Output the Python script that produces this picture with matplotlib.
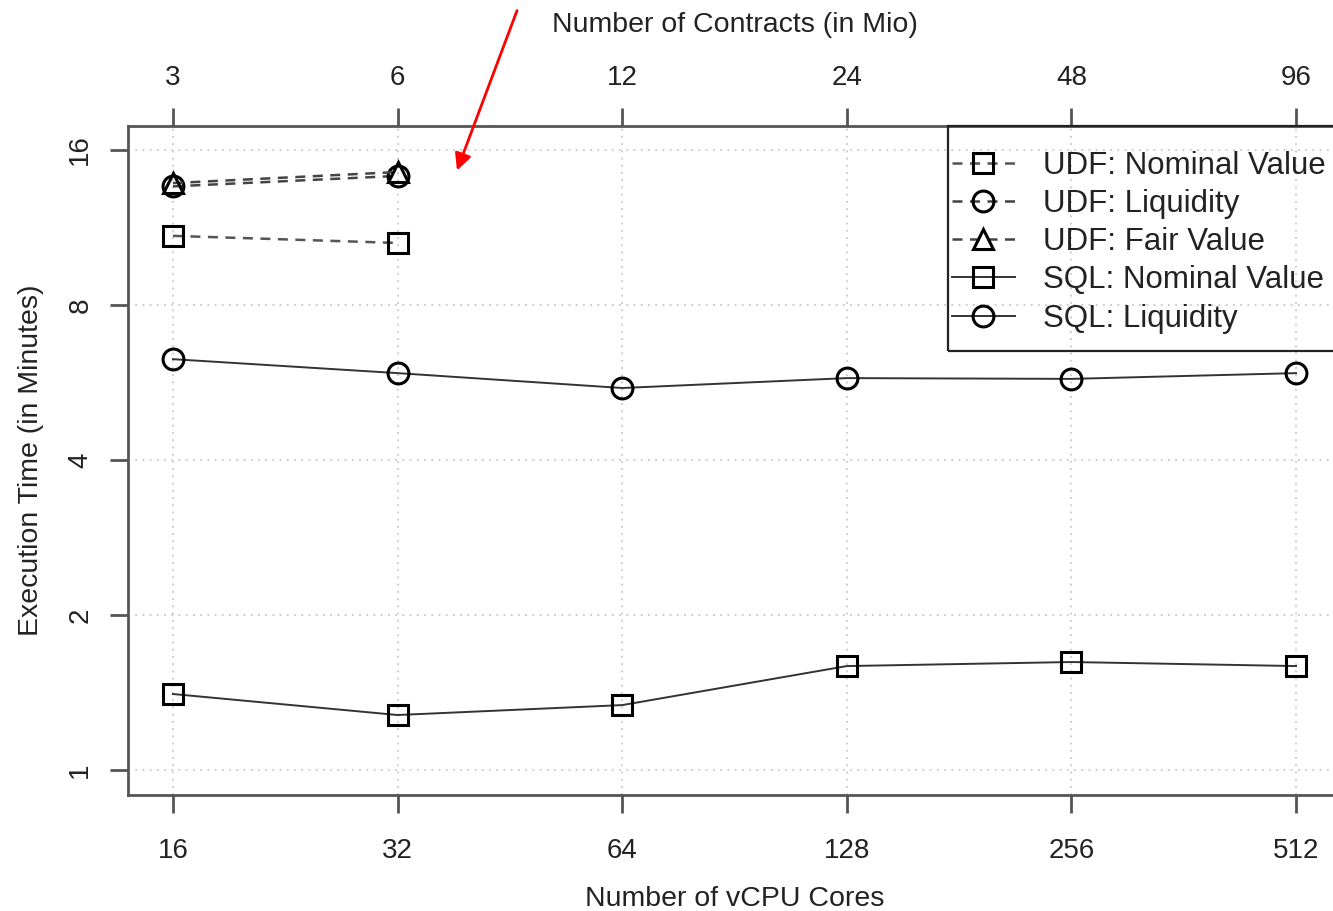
import matplotlib.pyplot as plt
from matplotlib.patches import Rectangle

plt.rcParams['font.family'] = ['Liberation Sans', 'DejaVu Sans']

cores = [16, 32, 64, 128, 256, 512]
contracts = [3, 6, 12, 24, 48, 96]

udf_nominal = [10.9, 10.56]
udf_liquidity = [13.6, 14.25]
udf_fair = [13.8, 14.5]
sql_nominal = [1.405, 1.279, 1.337, 1.592, 1.621, 1.592]
sql_liquidity = [6.28, 5.90, 5.52, 5.77, 5.75, 5.90]

W, H = 1333, 911
fig = plt.figure(figsize=(W / 100, H / 100), dpi=100)
ax = fig.add_axes([128 / W, 1 - 795 / H, (1341 - 128) / W, (795 - 126) / H])

mk = dict(markersize=15, markerfacecolor='none', markeredgecolor='black', markeredgewidth=2.2)
dash = (0, (4, 3))
ax.plot(cores[:2], udf_nominal, linestyle=dash, color='#555555', lw=1.8, marker='s', label='UDF: Nominal Value', **mk)
ax.plot(cores[:2], udf_liquidity, linestyle=dash, color='#444444', lw=1.8, marker='o', label='UDF: Liquidity', **mk)
ax.plot(cores[:2], udf_fair, linestyle=dash, color='#444444', lw=1.8, marker='^', label='UDF: Fair Value', **mk)
ax.plot(cores, sql_nominal, '-', color='#333333', lw=1.4, marker='s', label='SQL: Nominal Value', **mk)
ax.plot(cores, sql_liquidity, '-', color='#333333', lw=1.4, marker='o', label='SQL: Liquidity', **mk)

ax.set_xscale('log', base=2)
ax.set_yscale('log', base=2)
ax.set_xlim(16 * 2 ** -0.2, 512 * 2 ** 0.2)
ax.set_ylim(2 ** -0.161, 2 ** 4.155)
ax.set_xticks(cores)
ax.set_xticklabels([str(c) for c in cores])
ax.set_yticks([1, 2, 4, 8, 16])
ax.set_yticklabels(['1', '2', '4', '8', '16'], rotation=90, va='center')
ax.minorticks_off()
ax.grid(True, linestyle=(0, (1, 3)), color='#c8c8c8', lw=1.3)
ax.tick_params(labelsize=20, length=13, width=2, color='#555555', labelcolor='#222222')
ax.tick_params(axis='x', pad=18)
ax.tick_params(axis='y', pad=12)
for s in ax.spines.values():
    s.set_color('#555555')
    s.set_linewidth(2)
ax.set_xlabel('Number of vCPU Cores', fontsize=20.5, color='#222222', labelpad=16)
ax.set_ylabel('Execution Time (in Minutes)', fontsize=20.5, color='#222222', labelpad=17)

top = ax.twiny()
top.set_xscale('log', base=2)
top.set_xlim(ax.get_xlim())
top.set_xticks(cores)
top.set_xticklabels([str(c) for c in contracts])
top.minorticks_off()
top.tick_params(labelsize=20, length=13, width=2, color='#555555', labelcolor='#222222', pad=12)
top.set_xlabel('Number of Contracts (in Mio)', fontsize=20.5, color='#222222', labelpad=24)
for s in top.spines.values():
    s.set_visible(False)

fig.add_artist(Rectangle((948 / W, 1 - 351 / H), (1345 - 948) / W, (351 - 126) / H,
                         transform=fig.transFigure, fill=False, edgecolor='#222222', lw=1.6, zorder=5))
handles, labels = ax.get_legend_handles_labels()
leg = fig.legend(handles, labels, loc='upper left', bbox_to_anchor=(952 / W, 1 - 151 / H),
                 fontsize=22.5, frameon=False, handlelength=2.0, handletextpad=0.9,
                 labelspacing=0.26, borderpad=0, borderaxespad=0)
for t in leg.get_texts():
    t.set_color('#222222')

fig.add_artist(plt.Annotation('', xy=(456 / W, 1 - 173 / H), xytext=(518 / W, 1 - 8 / H),
                              xycoords='figure fraction', textcoords='figure fraction',
                              arrowprops=dict(arrowstyle='-|>', color='red', lw=2, mutation_scale=25)))

fig.savefig('out.png', dpi=100)
